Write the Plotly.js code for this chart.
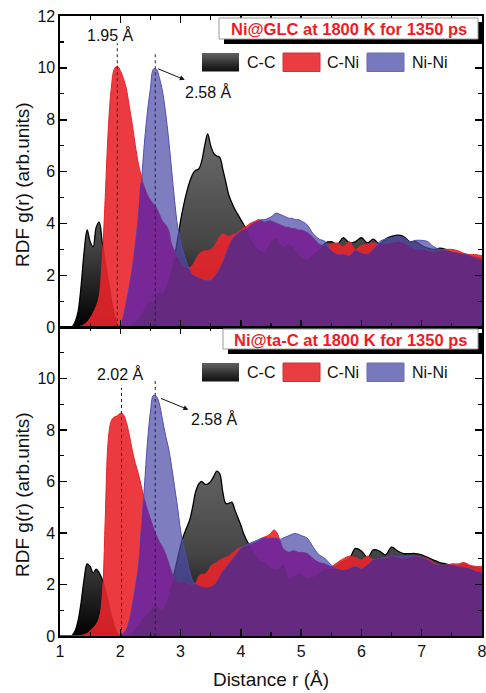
<!DOCTYPE html>
<html><head><meta charset="utf-8">
<script src="https://cdn.plot.ly/plotly-3.0.1.min.js"></script>
<style>html,body{margin:0;padding:0;background:#fff}#chart{width:486px;height:693px}</style>
</head><body><div id="chart"></div>
<script>
// distance grid r (Å)
const r = [
1.00,1.05,1.10,1.15,1.20,1.25,1.30,1.35,1.40,1.45,
1.50,1.55,1.60,1.65,1.70,1.75,1.80,1.85,1.90,1.95,
2.00,2.05,2.10,2.15,2.20,2.25,2.30,2.35,2.40,2.45,
2.50,2.55,2.60,2.65,2.70,2.75,2.80,2.85,2.90,2.95,
3.00,3.05,3.10,3.15,3.20,3.25,3.30,3.35,3.40,3.45,
3.50,3.55,3.60,3.65,3.70,3.75,3.80,3.85,3.90,3.95,
4.00,4.05,4.10,4.15,4.20,4.25,4.30,4.35,4.40,4.45,
4.50,4.55,4.60,4.65,4.70,4.75,4.80,4.85,4.90,4.95,
5.00,
5.1,5.2,5.3,5.4,5.5,5.6,5.7,5.8,5.9,6.0,
6.1,6.2,6.3,6.4,6.5,6.6,6.7,6.8,6.9,7.0,
7.1,7.2,7.3,7.4,7.5,7.6,7.7,7.8,7.9,8.0];

const seriesNames = ['C-C', 'C-Ni', 'Ni-Ni'];
const panelTitles = ['Ni@GLC at 1800 K for 1350 ps', 'Ni@ta-C at 1800 K for 1350 ps'];
const peaksGLC = [1.95, 2.58];
const peaksTaC = [2.02, 2.58];
const xTitle = 'Distance r (Å)';
const yTitle = 'RDF g(r) (arb.units)';

// Ni@GLC
const glcCC = [
0,0,0,0,0.02,0.2,0.6,1.6,2.9,3.75,
3.3,3.1,3.85,4.05,3.3,2.5,1.8,1.1,0.5,0.1,
0,0,0,0.05,0.1,0.2,0.35,0.5,0.7,0.9,
1.0,0.95,1.2,1.35,1.3,1.5,1.8,2.2,2.7,3.4,
4.1,4.7,5.2,5.6,5.9,6.05,6.1,6.4,7.0,7.45,
7.0,6.7,6.6,6.55,6.1,5.6,5.1,4.8,4.55,4.35,
4.15,3.95,3.75,3.45,3.25,3.1,3.0,2.9,2.9,3.1,
3.3,3.4,3.4,3.25,3.1,3.15,3.2,3.1,3.0,2.85,
2.7,
2.6,2.8,3.0,3.25,3.3,3.2,3.45,3.25,3.3,3.45,
3.25,3.4,3.2,3.4,3.5,3.55,3.5,3.3,3.3,3.15,
3.05,3.0,3.05,3.0,2.9,2.85,2.8,2.75,2.7,2.65];
const glcCNi = [
0,0,0,0,0,0,0.02,0.05,0.1,0.2,
0.35,0.55,0.8,1.2,2.6,5.0,7.6,9.2,9.95,10.07,
9.9,9.6,9.2,8.5,7.8,7.0,6.3,5.8,5.4,5.1,
4.9,4.75,4.6,4.35,4.1,3.95,3.75,3.2,2.95,2.7,
2.5,2.35,2.3,2.3,2.4,2.6,2.8,2.9,2.95,2.95,
3.0,3.1,3.3,3.5,3.6,3.55,3.5,3.55,3.6,3.65,
3.75,3.85,3.9,4.0,4.05,4.1,4.15,4.1,4.05,4.1,
4.1,4.05,4.0,3.95,3.9,3.85,3.85,3.8,3.8,3.75,
3.75,
3.65,3.45,3.2,3.15,3.2,3.25,3.1,3.3,3.0,3.15,
3.2,3.25,3.2,3.2,3.25,3.3,3.25,3.1,3.0,3.0,
2.95,2.9,2.95,3.0,3.0,2.95,2.85,2.8,2.8,2.75];
const glcNiNi = [
0,0,0,0,0,0,0,0,0,0,
0,0,0,0,0,0,0,0,0,0.02,
0.1,0.4,1.0,1.6,2.3,3.2,4.3,5.6,7.1,8.3,
9.2,9.95,9.95,9.6,9.1,8.3,7.3,6.1,4.9,3.9,
3.3,2.85,2.5,2.2,2.0,1.95,1.9,1.85,1.8,1.8,
1.8,1.9,2.05,2.25,2.5,2.8,3.1,3.35,3.5,3.6,
3.7,3.75,3.8,3.9,4.0,4.05,4.1,4.15,4.15,4.2,
4.25,4.35,4.4,4.35,4.3,4.25,4.2,4.2,4.15,4.15,
4.1,
3.95,3.6,3.4,3.3,2.95,2.8,2.8,2.75,2.95,2.85,
2.8,3.0,3.3,3.4,3.45,3.5,3.45,3.3,3.35,3.35,
3.3,3.1,3.0,2.95,2.9,2.85,2.8,2.75,2.65,2.6];

// Ni@ta-C
const tacCC = [
0,0,0,0,0.02,0.2,0.6,1.3,2.2,2.8,
2.7,2.45,2.6,2.45,2.2,1.8,1.3,0.8,0.4,0.1,
0,0,0,0.05,0.15,0.3,0.45,0.6,0.75,0.85,
1.0,1.15,1.2,1.05,1.0,1.2,1.6,2.0,2.5,3.0,
3.5,3.9,4.2,4.5,5.0,5.6,5.9,6.0,5.9,5.9,
6.0,6.2,6.4,6.3,5.6,5.15,5.15,5.2,4.9,4.6,
4.3,3.95,3.7,3.5,3.3,3.15,3.0,2.9,2.85,2.75,
2.65,2.6,2.6,2.7,2.8,2.5,2.2,2.3,2.35,2.4,
2.4,
2.25,2.3,2.45,2.6,2.6,2.75,2.9,3.0,3.4,3.3,
3.05,3.35,3.3,3.15,3.45,3.3,3.2,3.2,3.2,3.15,
3.05,2.95,2.85,2.8,2.75,2.7,2.8,2.7,2.65,2.6];
const tacCNi = [
0,0,0,0,0,0,0,0.02,0.05,0.1,
0.2,0.3,0.45,0.7,1.5,4.5,7.6,8.35,8.5,8.55,
8.65,8.6,8.3,7.8,7.2,6.7,6.3,5.8,5.3,4.9,
4.55,4.2,3.9,3.65,3.45,3.2,2.85,2.5,2.2,2.1,
2.1,2.1,2.05,2.0,2.0,2.05,2.3,2.4,2.4,2.5,
2.7,2.8,2.85,2.95,3.0,3.05,3.1,3.2,3.3,3.4,
3.45,3.45,3.5,3.55,3.6,3.65,3.7,3.8,3.85,3.9,
4.0,4.12,4.0,3.7,3.4,3.3,3.25,3.3,3.3,3.25,
3.25,
3.2,3.0,2.85,2.8,2.7,2.85,3.0,3.1,3.05,2.95,
3.1,2.95,3.0,3.0,3.1,3.05,3.0,3.05,3.1,3.05,
3.0,2.85,2.75,2.75,2.8,2.8,2.85,2.75,2.7,2.7];
const tacNiNi = [
0,0,0,0,0,0,0,0,0,0,
0,0,0,0,0,0,0,0,0,0,
0.02,0.1,0.25,0.6,1.2,1.9,2.7,4.2,5.8,7.5,
8.7,9.35,9.3,9.0,8.4,7.8,7.3,6.6,5.8,5.0,
4.1,3.5,3.0,2.5,2.15,2.0,1.95,1.9,1.88,1.88,
1.9,1.95,2.1,2.3,2.5,2.65,2.8,2.95,3.1,3.25,
3.4,3.5,3.55,3.6,3.65,3.7,3.75,3.8,3.8,3.8,
3.8,3.8,3.8,3.75,3.8,3.85,3.9,3.95,3.98,3.95,
3.9,
3.8,3.45,3.15,3.0,2.75,2.6,2.55,2.6,2.7,2.6,
2.75,2.95,3.0,3.05,3.1,3.1,3.1,3.1,3.1,3.05,
2.95,2.8,2.75,2.75,2.75,2.7,2.65,2.6,2.5,2.45];

const FONT = 'Liberation Sans, Arial, sans-serif';
const RED_FILL = 'rgba(233,38,44,0.9)';
const BLUE_FILL = 'rgba(75,75,168,0.72)';
const MAGENTA = '#782896';
const DARKPURPLE = '#652a7f';

function panelTraces(cc, cn, nn, xa, ya) {
  const both = cn.map((v, i) => Math.min(v, nn[i]));
  const all3 = cn.map((v, i) => Math.min(v, nn[i], cc[i]));
  const base = {x: r, xaxis: xa, yaxis: ya, type: 'scatter', mode: 'lines', fill: 'tozeroy', showlegend: false, hoverinfo: 'skip'};
  return [
    Object.assign({}, base, {y: cc, name: seriesNames[0], line: {color: '#000', width: 1.3, shape: 'spline'},
      fillgradient: {type: 'vertical', colorscale: [[0, '#000000'], [0.4, '#454545'], [1, '#707070']], start: 0, stop: 8}}),
    Object.assign({}, base, {y: cn, name: seriesNames[1], line: {color: '#e8222b', width: 1, shape: 'spline'}, fillcolor: RED_FILL}),
    Object.assign({}, base, {y: nn, name: seriesNames[2], line: {color: '#4e4eb0', width: 1, shape: 'spline'}, fillcolor: BLUE_FILL}),
    Object.assign({}, base, {y: both, line: {color: MAGENTA, width: 0, shape: 'spline'}, fillcolor: MAGENTA}),
    Object.assign({}, base, {y: all3, line: {color: DARKPURPLE, width: 0, shape: 'spline'}, fillcolor: DARKPURPLE})
  ];
}

const data = panelTraces(glcCC, glcCNi, glcNiNi, 'x', 'y')
  .concat(panelTraces(tacCC, tacCNi, tacNiNi, 'x2', 'y2'));

// pixel -> paper helpers (plot area: x 60..482, y 16..636)
const PX = p => (p - 60) / 422;
const PY = p => (636 - p) / 620;

const shapes = [];
const annotations = [];

function axisCommon() {
  return {
    showline: true, linecolor: '#000', linewidth: 1.6, mirror: 'allticks',
    ticks: 'inside', ticklen: 7, tickwidth: 1.5, tickcolor: '#000',
    showgrid: false, zeroline: false, ticklabeloverflow: 'allow',
    tickfont: {family: FONT, size: 16, color: '#111'}
  };
}

// panel title boxes, legends
const boxes = [
  {top: 18, bottom: 39, left: 219, right: 478},
  {top: 329, bottom: 349, left: 223, right: 478}
];
const legendTops = [53, 363];
const swatchX = [202, 283, 367];
const textX = [245, 325, 410];
const swatchColors = [null, '#eb3c41', '#7878be'];

boxes.forEach((b, k) => {
  shapes.push({type: 'rect', xref: 'paper', yref: 'paper', x0: PX(b.left + 5), x1: PX(b.right + 5), y0: PY(b.bottom + 5), y1: PY(b.top + 4),
    fillcolor: '#000', line: {width: 0}, layer: 'above'});
  shapes.push({type: 'rect', xref: 'paper', yref: 'paper', x0: PX(b.left), x1: PX(b.right), y0: PY(b.bottom), y1: PY(b.top),
    fillcolor: '#fff', line: {color: '#9a9a9a', width: 1}, layer: 'above'});
  annotations.push({xref: 'paper', yref: 'paper', x: PX((b.left + b.right) / 2), y: PY((b.top + b.bottom) / 2 + 0.5),
    text: '<b>' + panelTitles[k] + '</b>', showarrow: false, xanchor: 'center', yanchor: 'middle',
    font: {family: FONT, size: 16.5, color: '#ee1c25'}});

  const t = legendTops[k];
  const h = 18.5;
  // C-C gradient swatch
  const bands = ['#5c5c5c', '#525252', '#474747', '#3c3c3c', '#313131', '#262626', '#1c1c1c', '#141414'];
  bands.forEach((c, j) => {
    shapes.push({type: 'rect', xref: 'paper', yref: 'paper', x0: PX(swatchX[0]), x1: PX(swatchX[0] + 37),
      y0: PY(j === bands.length - 1 ? t + h : t + (j + 1) * h / bands.length + 1), y1: PY(t + j * h / bands.length),
      fillcolor: c, line: {width: 0}, layer: 'above'});
  });
  for (let i = 1; i < 3; i++) {
    shapes.push({type: 'rect', xref: 'paper', yref: 'paper', x0: PX(swatchX[i]), x1: PX(swatchX[i] + 37),
      y0: PY(t + h), y1: PY(t), fillcolor: swatchColors[i], line: {color: i === 1 ? '#d23035' : '#6a6ab2', width: 1}, layer: 'above'});
  }
  for (let i = 0; i < 3; i++) {
    annotations.push({xref: 'paper', yref: 'paper', x: PX(textX[i]), y: PY(t + h / 2), text: seriesNames[i],
      showarrow: false, xanchor: 'left', yanchor: 'middle', font: {family: FONT, size: 16, color: '#111'}});
  }
});

// y-axis titles (one per panel)
[185, 495].forEach(cy => {
  annotations.push({xref: 'paper', yref: 'paper', x: PX(22), y: PY(cy), text: yTitle, textangle: -90,
    showarrow: false, xanchor: 'center', yanchor: 'middle', font: {family: FONT, size: 19, color: '#111'}});
});

// peak markers
const peakSets = [
  {peaks: peaksGLC, xr: 'x', yr: 'y', tops: [10.95, 10.53], lab1: [1.83, 11.27], arrow: [2.60, 9.99, 3.07, 9.54], lab2: [3.46, 9.08]},
  {peaks: peaksTaC, xr: 'x2', yr: 'y2', tops: [9.64, 9.9], lab1: [2.0, 10.16], arrow: [2.65, 9.25, 3.13, 8.79], lab2: [3.56, 8.43]}
];
peakSets.forEach(p => {
  p.peaks.forEach((pk, i) => {
    shapes.push({type: 'line', xref: p.xr, yref: p.yr, x0: pk, x1: pk, y0: 0, y1: p.tops[i],
      line: {color: '#222', width: 1, dash: 'dot'}, layer: 'above'});
  });
  annotations.push({xref: p.xr, yref: p.yr, x: p.lab1[0], y: p.lab1[1], text: p.peaks[0].toFixed(2) + ' Å',
    showarrow: false, font: {family: FONT, size: 16, color: '#111'}});
  annotations.push({xref: p.xr, yref: p.yr, axref: p.xr, ayref: p.yr, x: p.arrow[2], y: p.arrow[3], ax: p.arrow[0], ay: p.arrow[1],
    text: '', showarrow: true, arrowhead: 2, arrowsize: 1, arrowwidth: 1, arrowcolor: '#111'});
  annotations.push({xref: p.xr, yref: p.yr, x: p.lab2[0], y: p.lab2[1], text: p.peaks[1].toFixed(2) + ' Å',
    showarrow: false, font: {family: FONT, size: 16, color: '#111'}});
});

const layout = {
  width: 486, height: 693,
  margin: {l: 60, r: 4, t: 16, b: 57},
  paper_bgcolor: '#fff', plot_bgcolor: '#fff',
  showlegend: false,
  font: {family: FONT, color: '#111'},
  xaxis: Object.assign(axisCommon(), {domain: [0, 1], anchor: 'y', range: [1, 8], dtick: 1, showticklabels: false,
    minor: {dtick: 0.5, ticks: 'inside', ticklen: 4, tickwidth: 1.2, tickcolor: '#000', showgrid: false}}),
  yaxis: Object.assign(axisCommon(), {domain: [0.498, 1], anchor: 'x', range: [0, 12], dtick: 2,
    minor: {dtick: 1, ticks: 'inside', ticklen: 4, tickwidth: 1.2, tickcolor: '#000', showgrid: false}}),
  xaxis2: Object.assign(axisCommon(), {domain: [0, 1], anchor: 'y2', range: [1, 8], dtick: 1,
    minor: {dtick: 0.5, ticks: 'inside', ticklen: 4, tickwidth: 1.2, tickcolor: '#000', showgrid: false},
    title: {text: xTitle, font: {family: FONT, size: 19, color: '#111'}, standoff: 14}}),
  yaxis2: Object.assign(axisCommon(), {domain: [0, 0.498], anchor: 'x2', range: [0, 11.99], dtick: 2,
    minor: {dtick: 1, ticks: 'inside', ticklen: 4, tickwidth: 1.2, tickcolor: '#000', showgrid: false}}),
  shapes: shapes,
  annotations: annotations
};

Plotly.newPlot('chart', data, layout, {displayModeBar: false, staticPlot: true});
</script>
</body></html>
